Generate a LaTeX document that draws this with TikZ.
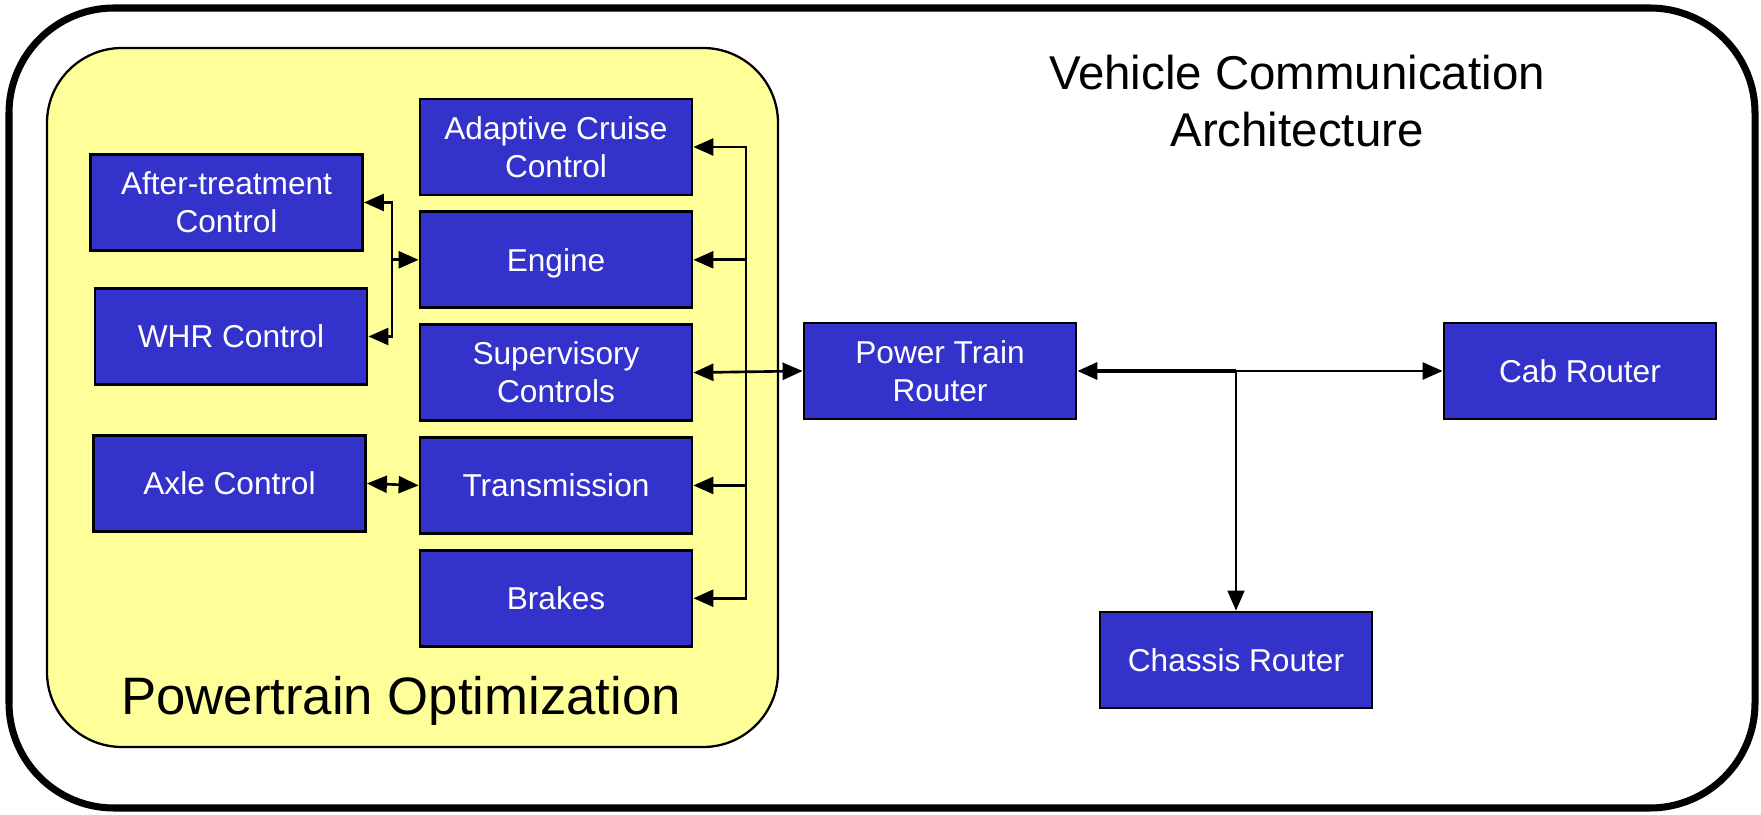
\documentclass[tikz,border=0pt]{standalone}
\usepackage{fontspec}
\setmainfont{Liberation Sans}
\usepackage{xcolor}
\usetikzlibrary{positioning,arrows.meta}
\definecolor{unitblue}{RGB}{51,51,204}
\definecolor{optyellow}{RGB}{255,255,153}

\tikzset{
  >={Triangle[length=0.4cm,width=0.34cm]},
  unit/.style={draw=black, line width=1.6pt, fill=unitblue, text=white,
               minimum width=5.44cm, minimum height=1.92cm, inner sep=0pt,
               align=center, font=\fontsize{18}{21.6}\selectfont},
  oneline/.style={unit, text height=13pt, text depth=0pt},
  link/.style={line width=1.5pt, ->},
  dlink/.style={line width=1.5pt, <->}
}

\begin{document}
\begin{tikzpicture}
    \useasboundingbox (0,0) rectangle (35.22,16.28);
    % frame and group
    \draw[line width=4pt, rounded corners=2.1cm] (0.18,0.12) rectangle (35.1,16.12);
    \draw[fill=optyellow, line width=1.3pt, rounded corners=1.5cm] (0.94,1.34) rectangle (15.56,15.32);
    \node[font=\fontsize{27}{32.4}\selectfont, align=center] (title) at (25.94,14.25)
        {Vehicle Communication\\Architecture};
    \node[font=\fontsize{30}{36}\selectfont] (group) at (8.02,2.27) {Powertrain Optimization};

    % powertrain units
    \node[unit] (acc) at (11.12,13.34) {Adaptive Cruise\\Control};
    \node[oneline, below=0.28cm of acc] (engine) {Engine};
    \node[unit, below=0.28cm of engine] (sup) {Supervisory\\Controls};
    \node[oneline, below=0.28cm of sup] (trans) {Transmission};
    \node[oneline, below=0.28cm of trans] (brakes) {Brakes};
    \node[unit] (atc) at (4.53,12.23) {After-treatment\\Control};
    \node[oneline] (whr) at (4.62,9.55) {WHR Control};
    \node[oneline] (axle) at (4.59,6.61) {Axle Control};

    % routers
    \node[unit] (ptr) at (18.80,8.86) {Power Train\\Router};
    \node[oneline] (cab) at (31.60,8.86) {Cab Router};
    \node[oneline] (chassis) at (24.72,3.08) {Chassis Router};

    % left bus
    \coordinate (lbus) at (7.84,0 |- engine.west);
    \draw[link] (lbus) |- (atc.east);
    \draw[link] (lbus) |- (whr.east);
    \draw[link] (lbus) -- (engine.west);
    \draw[dlink] (axle.east) -- (trans.west);

    % right bus
    \coordinate (rbus) at (14.92,0 |- sup.east);
    \draw[link] (rbus) |- (acc.east);
    \draw[link] (rbus) |- (engine.east);
    \draw[link] (rbus) |- (trans.east);
    \draw[link] (rbus) |- (brakes.east);
    \draw[dlink] (sup.east) -- (ptr.west);

    % router links
    \coordinate (split) at (ptr.east -| chassis.north);
    \draw[link, line width=2pt] (split) -- (ptr.east);
    \draw[link] (split) -- (cab.west);
    \draw[link, line width=1pt] (split) -- (chassis.north);
\end{tikzpicture}
\end{document}
